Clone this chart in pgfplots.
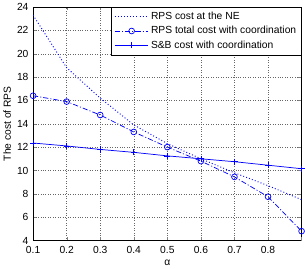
\documentclass[border=0pt]{standalone}
\usepackage{pgfplots}
\pgfplotsset{compat=1.18}
\usepackage{fontspec}
\setmainfont{Liberation Sans}
\begin{document}
\begin{tikzpicture}
\begin{axis}[
  scale only axis,
  width=261pt, height=227pt,
  xmin=0.1, xmax=0.9, ymin=4, ymax=24,
  xtick={0.1,0.2,0.3,0.4,0.5,0.6,0.7,0.8},
  xticklabels={0.1,0.2,0.3,0.4,0.5,0.6,0.7,0.8},
  ytick={4,6,8,10,12,14,16,18,20,22,24},
  extra x ticks={0.9}, extra x tick labels={},
  extra x tick style={grid=none},
  tick align=inside,
  major tick length=3pt,
  grid=major,
  grid style={dotted, black!60},
  /pgf/number format/assume math mode=true,
  tick label style={font=\fontsize{10}{11}\selectfont},
  xticklabel style={yshift=-2pt},
  yticklabel style={xshift=-1pt},
  label style={font=\fontsize{10}{11}\selectfont},
  xlabel={α},
  ylabel={The cost of RPS},
  xlabel style={yshift=1pt},
  ylabel style={yshift=-1pt},
  legend style={at={(1,1)}, anchor=north east, draw=black, font=\fontsize{10}{11}\selectfont, row sep=1pt, inner xsep=3pt, inner ysep=3pt, cells={anchor=west}},
  legend cell align=left,
  legend image code/.code={\draw[#1] (0cm,0cm) -- (1.15cm,0cm); \draw[#1,solid] plot coordinates {(0.575cm,0cm)};},
]
\addplot[blue, line width=0.9pt, dash pattern=on 0.9pt off 2.1pt, no marks] coordinates {
(0.1,23.3) (0.2,18.8) (0.3,16.2) (0.4,13.9) (0.5,12.3) (0.6,11.0) (0.7,9.8) (0.8,8.7) (0.9,7.5)};
\addlegendentry{RPS cost at the NE}
\addplot[blue, line width=0.7pt, dash pattern=on 5pt off 2pt on 1pt off 2pt, mark=o, mark size=2.8pt, mark options={solid}] coordinates {
(0.1,16.4) (0.2,15.9) (0.3,14.75) (0.4,13.3) (0.5,12.0) (0.6,10.8) (0.7,9.45) (0.8,7.75) (0.9,4.8)};
\addlegendentry{RPS total cost with coordination}
\addplot[blue, line width=0.7pt, solid, mark=+, mark size=3pt] coordinates {
(0.1,12.35) (0.2,12.1) (0.3,11.8) (0.4,11.55) (0.5,11.25) (0.6,11.0) (0.7,10.75) (0.8,10.45) (0.9,10.15)};
\addlegendentry{S\&B cost with coordination}
\end{axis}
\end{tikzpicture}
\end{document}
